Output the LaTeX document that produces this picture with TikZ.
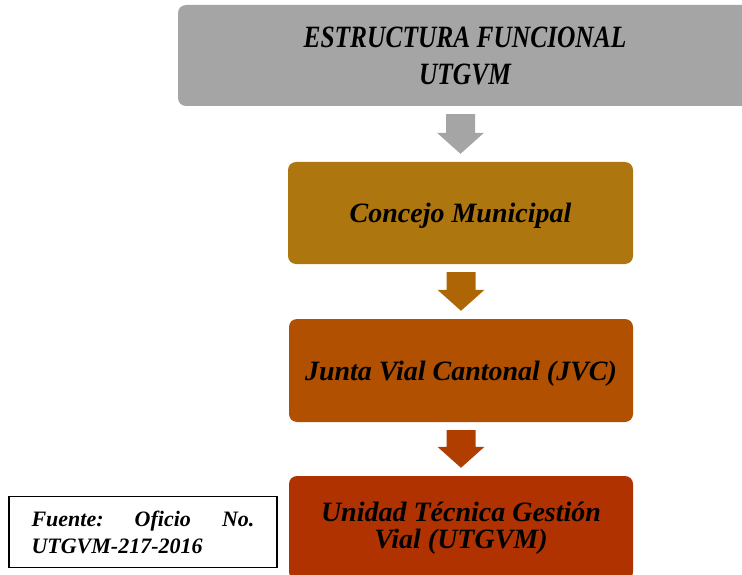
\documentclass[tikz,border=0pt]{standalone}
\usepackage{fontspec}
\setmainfont{Liberation Serif}
\newfontfamily\capsfont[FakeStretch=0.82]{Liberation Serif}
\usetikzlibrary{calc}
\definecolor{grisbox}{HTML}{A5A5A5}
\definecolor{oro}{HTML}{AE760E}
\definecolor{oroflecha}{HTML}{AE6506}
\definecolor{naranja}{HTML}{B05000}
\definecolor{naranjaflecha}{HTML}{B03E00}
\definecolor{rojizo}{HTML}{B03200}
\def\blockdown[#1](#2)(#3){\fill[#1] let \p1=(#2.south), \p2=(#3.north) in (\x2-14.5pt,\y1-8pt) -- (\x2+14.5pt,\y1-8pt) -- (\x2+14.5pt,\y2+29pt) -- (\x2+23.5pt,\y2+29pt) -- (\x2,\y2+8pt) -- (\x2-23.5pt,\y2+29pt) -- (\x2-14.5pt,\y2+29pt) -- cycle;}

\begin{document}
\begin{tikzpicture}[x=1pt, y=-1pt,
	caja/.style={rounded corners=8pt, inner sep=0pt, align=center, text=black, font=\bfseries\itshape\fontsize{28}{27}\selectfont}]
		%%%%% START %%%%%
		\useasboundingbox (0, 0) rectangle (742, 575);
		\clip (0, 0) rectangle (742, 575);
		
		\node[caja, fill=grisbox, minimum width=574pt, minimum height=101pt, font=\bfseries\itshape\fontsize{31}{37}\selectfont] (titulo) at (465, 55.5) {\capsfont ESTRUCTURA FUNCIONAL\\\capsfont UTGVM};
		
		\node[caja, fill=oro, minimum width=345pt, minimum height=102pt, text depth=0pt] (concejo) at (460.5, 213) {Concejo Municipal};
		
		\node[caja, fill=naranja, minimum width=344pt, minimum height=103pt, text depth=0pt] (junta) at (461, 370.5) {Junta Vial Cantonal (JVC)};
		
		\node[caja, fill=rojizo, minimum width=344pt, minimum height=104pt] (unidad) at (461, 528) {Unidad Técnica Gestión\\Vial (UTGVM)};
		
		\blockdown[grisbox](titulo)(concejo)
		\blockdown[oroflecha](concejo)(junta)
		\blockdown[naranjaflecha](junta)(unidad)
		
		\node[draw, line width=1.5pt, minimum width=268pt, minimum height=71pt, text width=223pt, align=left, font=\bfseries\itshape\fontsize{22}{27}\selectfont] (fuente) at (143, 532) {Fuente:\hfill Oficio\hfill No.\\UTGVM-217-2016};
		%%%%% END %%%%%
	\end{tikzpicture}
\end{document}
